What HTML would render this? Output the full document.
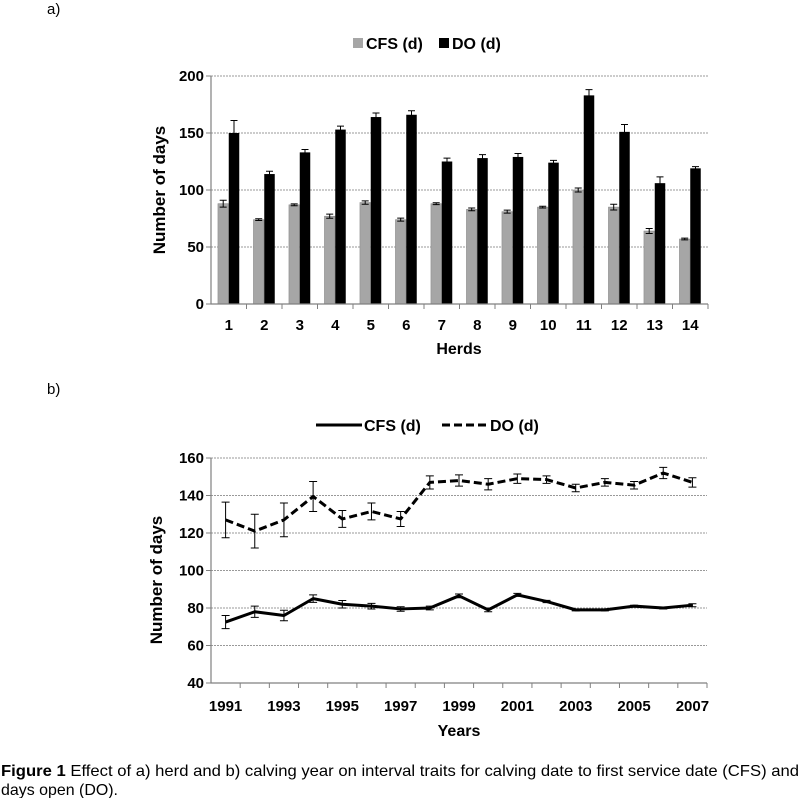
<!DOCTYPE html>
<html><head><meta charset="utf-8">
<style>
html,body{margin:0;padding:0;background:#fff;}
svg{display:block;}
.t{font-family:"Liberation Sans",sans-serif;font-weight:bold;fill:#000;}
.cap{font-family:"Liberation Sans",sans-serif;font-size:16px;fill:#000;}
</style></head>
<body>
<svg id="fig" width="800" height="798" viewBox="0 0 800 798" xmlns="http://www.w3.org/2000/svg">
<text x="47" y="14" class="cap" style="font-size:15px">a)</text>
<text x="47" y="394" class="cap" style="font-size:15px">b)</text>
<g id="chartA"></g>
<g id="chartB"></g>
<text x="1" y="776" class="cap" textLength="798" lengthAdjust="spacingAndGlyphs"><tspan font-weight="bold">Figure 1</tspan> Effect of a) herd and b) calving year on interval traits for calving date to first service date (CFS) and</text>
<text x="1" y="795" class="cap" textLength="117" lengthAdjust="spacingAndGlyphs">days open (DO).</text>
</svg>
<script>
const herds = ["1","2","3","4","5","6","7","8","9","10","11","12","13","14"];
const cfsHerd = [88,74,87,77,89,74,88,83,81,85,100,85,64,57];
const cfsHerdErr = [3,0.8,0.8,1.8,1.5,1.3,0.8,1.2,1.3,0.8,1.7,2.5,2.2,0.8];
const doHerd = [150,114,133,153,164,166,125,128,129,124,183,151,106,119];
const doHerdErr = [11,2.5,2.5,3,3.5,3.5,3,3,3,2,5,6.5,5.5,1.5];
const yTicksA = [0,50,100,150,200];

const years = ["1991","1992","1993","1994","1995","1996","1997","1998","1999","2000","2001","2002","2003","2004","2005","2006","2007"];
const cfsYear = [72.5,78,76,85,82,81,79.5,80,86.5,79,87,83.5,79,79,81,80,81.5];
const cfsYearErr = [3.5,3,2.8,2,2,1.5,1.2,1,1,1,0.8,0.6,0.5,0.5,0.5,0.5,0.8];
const doYear = [127,121,127,139.5,127.5,131.5,127.5,147,148,146,149,148.5,144,147,145.5,152,147];
const doYearErr = [9.5,9,9,8,4.5,4.5,4,3.5,3,3,2.5,2,2,2,2,3,2.5];
const yTicksB = [40,60,80,100,120,140,160];

const NS="http://www.w3.org/2000/svg";
function mk(parent,tag,attrs){const e=document.createElementNS(NS,tag);for(const k in attrs)e.setAttribute(k,attrs[k]);parent.appendChild(e);return e;}

// ---------- Chart A ----------
(function(){
  const g=document.getElementById('chartA');
  const x0=211,x1=708,y0=304,y1=76,vmax=200;
  const cw=(x1-x0)/herds.length;
  const ys=v=>y0-(v/vmax)*(y0-y1);
  yTicksA.forEach(v=>{
    if(v>0){const gl=mk(g,'line',{x1:x0,x2:x1,y1:ys(v),y2:ys(v),stroke:'#999','stroke-dasharray':'2,1','stroke-width':1});
    
    }
    const tk=mk(g,'line',{x1:x0-5,x2:x0,y1:ys(v),y2:ys(v),stroke:'#808080'});
    
    
    const t=mk(g,'text',{x:x0-7,y:ys(v)+5,'text-anchor':'end','font-size':'15',class:'t'});t.textContent=v;
    
    
  });
  herds.forEach((h,i)=>{
    const cx=x0+cw*(i+0.5);
    const bw=10.5;
    const b1=mk(g,'rect',{x:cx-bw-0.3,y:ys(cfsHerd[i]),width:bw,height:y0-ys(cfsHerd[i]),fill:'#a6a6a6',stroke:'#8c8c8c','stroke-width':0.6});
    
    
    const b2=mk(g,'rect',{x:cx,y:ys(doHerd[i]),width:bw,height:y0-ys(doHerd[i]),fill:'#000'});
    
    
    [[cx-bw/2-0.3,cfsHerd[i],cfsHerdErr[i]],[cx+bw/2,doHerd[i],doHerdErr[i]]].forEach(([ex,v,e],k)=>{
      const eb=mk(g,'path',{d:`M${ex},${ys(v-e)}V${ys(v+e)}M${ex-3.5},${ys(v+e)}H${ex+3.5}M${ex-3.5},${ys(v-e)}H${ex+3.5}`,stroke:'#000','stroke-width':1,fill:'none'});
      
      
    });
    const tk=mk(g,'line',{x1:x0+cw*(i+1),x2:x0+cw*(i+1),y1:y0,y2:y0+5,stroke:'#808080'});
    
    
    const t=mk(g,'text',{x:cx,y:330,'text-anchor':'middle','font-size':'15',class:'t'});t.textContent=h;
    
    
  });
  const ax=mk(g,'path',{d:`M${x0},${y1}V${y0}H${x1}`,stroke:'#808080',fill:'none','stroke-width':1.2});
  
  
  const yt=mk(g,'text',{x:0,y:0,transform:'translate(165,190) rotate(-90)','text-anchor':'middle','font-size':'17',class:'t'});yt.textContent='Number of days';
  
  
  const xt=mk(g,'text',{x:459,y:354,'text-anchor':'middle','font-size':'16',class:'t'});xt.textContent='Herds';
  
  
  const l1=mk(g,'rect',{x:353,y:38,width:10,height:10,fill:'#a6a6a6'});
  
  
  const lt1=mk(g,'text',{x:366,y:49,'font-size':'16',class:'t'});lt1.textContent='CFS (d)';
  
  
  const l2=mk(g,'rect',{x:439,y:38,width:10,height:10,fill:'#000'});
  
  
  const lt2=mk(g,'text',{x:452,y:49,'font-size':'16',class:'t'});lt2.textContent='DO (d)';
  
  
})();

// ---------- Chart B ----------
(function(){
  const g=document.getElementById('chartB');
  const x0=211,x1=707,y0=683,y1=458,vmin=40,vmax=160;
  const cw=(x1-x0)/years.length;
  const ys=v=>y0-((v-vmin)/(vmax-vmin))*(y0-y1);
  const xs=i=>x0+cw*(i+0.5);
  yTicksB.forEach(v=>{
    if(v>vmin){const gl=mk(g,'line',{x1:x0,x2:x1,y1:ys(v),y2:ys(v),stroke:'#999','stroke-dasharray':'2,1','stroke-width':1});
    
    }
    const tk=mk(g,'line',{x1:x0-5,x2:x0,y1:ys(v),y2:ys(v),stroke:'#808080'});
    
    
    const t=mk(g,'text',{x:x0-7,y:ys(v)+5,'text-anchor':'end','font-size':'15',class:'t'});t.textContent=v;
    
    
  });
  years.forEach((yr,i)=>{
    const tk=mk(g,'line',{x1:x0+cw*(i+1),x2:x0+cw*(i+1),y1:y0,y2:y0+5,stroke:'#808080'});
    
    
    if(i%2===0){const t=mk(g,'text',{x:xs(i),y:711,'text-anchor':'middle','font-size':'15',class:'t'});t.textContent=yr;
    
    }
  });
  function series(vals,errs,dash,name){
    vals.forEach((v,i)=>{
      const e=errs[i],ex=xs(i);
      const eb=mk(g,'path',{d:`M${ex},${ys(v-e)}V${ys(v+e)}M${ex-4},${ys(v+e)}H${ex+4}M${ex-4},${ys(v-e)}H${ex+4}`,stroke:'#000','stroke-width':1,fill:'none'});
      
      
    });
    const d=vals.map((v,i)=>(i?'L':'M')+xs(i)+','+ys(v)).join('');
    const attrs={d:d,stroke:'#000','stroke-width':3,fill:'none','stroke-linejoin':'round'};
    if(dash)attrs['stroke-dasharray']='8,4';
    const p=mk(g,'path',attrs);
    
    
  }
  series(doYear,doYearErr,true,'do');
  series(cfsYear,cfsYearErr,false,'cfs');
  const ax=mk(g,'path',{d:`M${x0},${y1}V${y0}H${x1}`,stroke:'#808080',fill:'none','stroke-width':1.2});
  
  
  const yt=mk(g,'text',{x:0,y:0,transform:'translate(162,580) rotate(-90)','text-anchor':'middle','font-size':'17',class:'t'});yt.textContent='Number of days';
  
  
  const xt=mk(g,'text',{x:459,y:736,'text-anchor':'middle','font-size':'16',class:'t'});xt.textContent='Years';
  
  
  const l1=mk(g,'line',{x1:316,x2:362,y1:425,y2:425,stroke:'#000','stroke-width':3});
  
  
  const lt1=mk(g,'text',{x:364,y:431,'font-size':'16',class:'t'});lt1.textContent='CFS (d)';
  
  
  const l2=mk(g,'line',{x1:442,x2:488,y1:425,y2:425,stroke:'#000','stroke-width':3,'stroke-dasharray':'8,4'});
  
  
  const lt2=mk(g,'text',{x:490,y:431,'font-size':'16',class:'t'});lt2.textContent='DO (d)';
  
  
})();
</script>
</body></html>
